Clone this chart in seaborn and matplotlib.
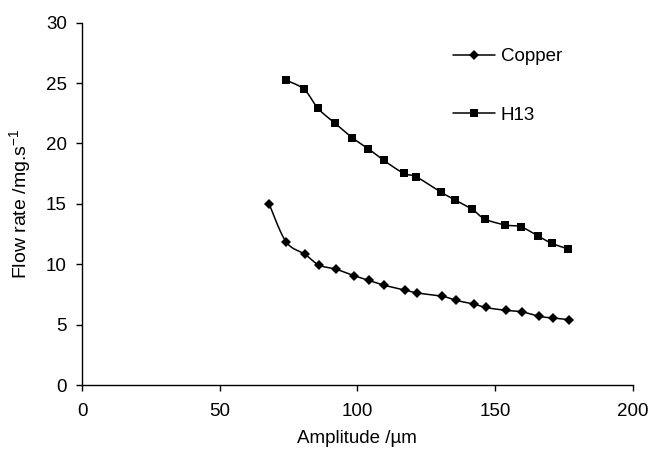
import numpy as np
import pandas as pd
import matplotlib
matplotlib.use("Agg")
import matplotlib.pyplot as plt
from matplotlib.lines import Line2D
import seaborn as sns

# Amplitude (µm) and measured flow rate (mg/s) for the two materials
copper_amplitude = [68.0, 74.1, 81.0, 86.1, 92.4, 98.7, 104.1, 109.8, 117.3, 121.8,
                    130.9, 136.0, 142.2, 146.6, 154.0, 159.7, 165.9, 171.0, 176.7]
copper_flow = [14.96, 11.86, 10.82, 9.93, 9.58, 9.06, 8.67, 8.26, 7.86, 7.62,
               7.35, 7.00, 6.71, 6.42, 6.18, 6.07, 5.69, 5.55, 5.42]

h13_amplitude = [74.0, 80.7, 85.7, 92.0, 98.2, 104.0, 109.6, 116.9, 121.4,
                 130.5, 135.6, 141.8, 146.3, 153.8, 159.4, 165.7, 170.6, 176.4]
h13_flow = [25.25, 24.48, 22.90, 21.66, 20.47, 19.56, 18.60, 17.52, 17.24,
            15.95, 15.31, 14.54, 13.74, 13.25, 13.10, 12.33, 11.73, 11.28]

series_names = ["Copper", "H13"]
x_ticks = [0, 50, 100, 150, 200]
y_ticks = [0, 5, 10, 15, 20, 25, 30]


def smooth_curve(x, y, steps=20):
    """Bezier smoothing through every point (tension 1/6, spreadsheet style)."""
    p = np.column_stack([x, y]).astype(float)
    n = len(p)
    out = [p[0]]
    t = np.linspace(0, 1, steps + 1)[1:][:, None]
    for i in range(n - 1):
        p0 = p[i - 1] if i > 0 else p[i]
        p1, p2 = p[i], p[i + 1]
        p3 = p[i + 2] if i + 2 < n else p[i + 1]
        c1 = p1 + (p2 - p0) / 6.0
        c2 = p2 - (p3 - p1) / 6.0
        seg = ((1 - t) ** 3) * p1 + 3 * ((1 - t) ** 2) * t * c1 + 3 * (1 - t) * t ** 2 * c2 + t ** 3 * p2
        out.extend(seg)
    out = np.array(out)
    return out[:, 0], out[:, 1]


sns.set_theme(style="ticks")
plt.rcParams["font.family"] = ["Liberation Sans", "DejaVu Sans"]
plt.rcParams["mathtext.fontset"] = "custom"
plt.rcParams["mathtext.rm"] = "Liberation Sans"
plt.rcParams["mathtext.it"] = "Liberation Sans"
plt.rcParams["text.color"] = "black"
plt.rcParams["axes.labelcolor"] = "black"

FS = 13.5

fig = plt.figure(figsize=(6.52, 4.49), dpi=100)
ax = fig.add_axes([0.1258, 0.1425, 0.9704 - 0.1258, 0.9494 - 0.1425])

markers = {"Copper": "D", "H13": "s"}
sizes = {"Copper": 5.6, "H13": 6.3}
data = {"Copper": (copper_amplitude, copper_flow), "H13": (h13_amplitude, h13_flow)}

for name in series_names:
    xs, ys = data[name]
    sx, sy = smooth_curve(xs, ys)
    curve = pd.DataFrame({"Amplitude": sx, "Flow": sy})
    sns.lineplot(data=curve, x="Amplitude", y="Flow", ax=ax, color="black",
                 linewidth=1.1, sort=False, estimator=None)
    pts = pd.DataFrame({"Amplitude": xs, "Flow": ys})
    ax.plot(pts["Amplitude"], pts["Flow"], linestyle="none", marker=markers[name],
            markersize=sizes[name], color="black", markeredgewidth=0)

ax.set_xlim(0, 200)
ax.set_ylim(0, 30)
ax.set_xticks(x_ticks)
ax.set_yticks(y_ticks)
ax.tick_params(axis="both", direction="out", length=4, width=1, colors="black",
               labelsize=FS)
ax.tick_params(axis="y", pad=7)
ax.tick_params(axis="x", pad=9)
for side in ["top", "right"]:
    ax.spines[side].set_visible(False)
for side in ["left", "bottom"]:
    ax.spines[side].set_color("black")
    ax.spines[side].set_linewidth(1.0)

ax.set_xlabel("Amplitude /µm", fontsize=FS, labelpad=7)
ax.set_ylabel("Flow rate /mg.s$^{-1}$", fontsize=FS + 0.5, labelpad=9)

handles = [Line2D([], [], color="black", linewidth=1.1, marker=markers[n],
                  markersize=sizes[n] - 0.4, markeredgewidth=0) for n in series_names]
fig.legend(handles, series_names, loc="upper left", bbox_to_anchor=(0.695, 0.893),
           frameon=False, fontsize=FS, handlelength=2.25, handletextpad=0.3,
           labelspacing=2.2, borderpad=0, borderaxespad=0)

fig.savefig("out.png", dpi=100)
